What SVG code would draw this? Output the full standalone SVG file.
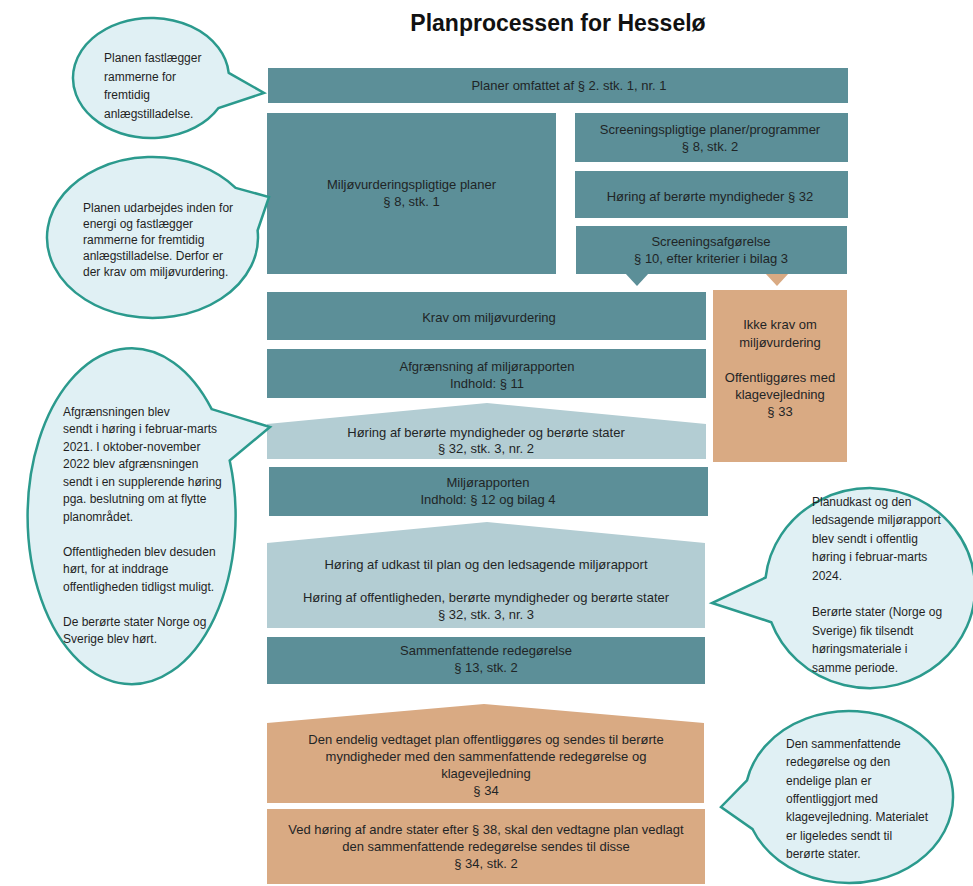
<svg xmlns="http://www.w3.org/2000/svg" width="973" height="886" viewBox="0 0 973 886">
<style>
  .bg { fill: #ffffff; }
  .teal { fill: #5c8f98; }
  .light { fill: #b3cdd3; }
  .orange { fill: #d9aa83; }
  .bubble { fill: #e0f0f4; stroke: #2b9a8d; stroke-width: 2.5; stroke-linejoin: miter; }
  .t { font-family: "Liberation Sans", Arial, sans-serif; font-size: 13px; fill: #1f2526; text-anchor: middle; }
  .b { font-family: "Liberation Sans", Arial, sans-serif; font-size: 12px; fill: #1f1f1f; }
  .title { font-family: "Liberation Sans", Arial, sans-serif; font-size: 23px; font-weight: bold; fill: #111111; text-anchor: middle; }
</style>
<rect class="bg" x="0" y="0" width="973" height="886"/>

<text class="title" x="558" y="31">Planprocessen for Hesselø</text>

<g id="connectors">
  <polygon class="teal" points="625,273 649,273 637,286"/>
  <polygon class="orange" points="765,273 789,273 777,286"/>
</g>

<g id="n-planer">
  <rect class="teal" x="268" y="68" width="580" height="35"/>
  <text class="t" x="569" y="90">Planer omfattet af § 2. stk. 1, nr. 1</text>
</g>

<g id="n-miljovurderingspligtige">
  <rect class="teal" x="267" y="113" width="289" height="161"/>
  <text class="t" x="411.5" y="189">Miljøvurderingspligtige planer</text>
  <text class="t" x="411.5" y="206">§ 8, stk. 1</text>
</g>

<g id="n-screeningspligtige">
  <rect class="teal" x="575" y="113" width="273" height="49"/>
  <text class="t" x="710" y="134">Screeningspligtige planer/programmer</text>
  <text class="t" x="710" y="151">§ 8, stk. 2</text>
</g>

<g id="n-horing-myndigheder">
  <rect class="teal" x="575" y="171" width="273" height="47"/>
  <text class="t" x="710" y="201">Høring af berørte myndigheder § 32</text>
</g>

<g id="n-screeningsafgorelse">
  <rect class="teal" x="576" y="226" width="271" height="48"/>
  <text class="t" x="711" y="246">Screeningsafgørelse</text>
  <text class="t" x="711" y="263">§ 10, efter kriterier i bilag 3</text>
</g>

<g id="n-ikke-krav">
  <rect class="orange" x="713" y="290" width="134" height="172"/>
  <text class="t" x="780" y="329">Ikke krav om</text>
  <text class="t" x="780" y="347">miljøvurdering</text>
  <text class="t" x="780" y="382">Offentliggøres med</text>
  <text class="t" x="780" y="399">klagevejledning</text>
  <text class="t" x="780" y="416">§ 33</text>
</g>

<g id="n-krav">
  <rect class="teal" x="267" y="292" width="439" height="48"/>
  <text class="t" x="489" y="322">Krav om miljøvurdering</text>
</g>

<g id="n-afgraensning">
  <rect class="teal" x="267" y="349" width="439" height="49"/>
  <text class="t" x="487" y="371">Afgrænsning af miljørapporten</text>
  <text class="t" x="487" y="388">Indhold: § 11</text>
</g>

<g id="n-horing-stater">
  <polygon class="light" points="267,424 487,403 706,424 706,459 267,459"/>
  <text class="t" x="486" y="437">Høring af berørte myndigheder og berørte stater</text>
  <text class="t" x="486" y="453">§ 32, stk. 3, nr. 2</text>
</g>

<g id="n-miljorapporten">
  <rect class="teal" x="269" y="467" width="439" height="49"/>
  <text class="t" x="488" y="487">Miljørapporten</text>
  <text class="t" x="488" y="504">Indhold: § 12 og bilag 4</text>
</g>

<g id="n-horing-udkast">
  <polygon class="light" points="267,543 487,522 705,543 705,628 267,628"/>
  <text class="t" x="486" y="569">Høring af udkast til plan og den ledsagende miljørapport</text>
  <text class="t" x="486" y="602">Høring af offentligheden, berørte myndigheder og berørte stater</text>
  <text class="t" x="486" y="619">§ 32, stk. 3, nr. 3</text>
</g>

<g id="n-sammenfattende">
  <rect class="teal" x="267" y="637" width="438" height="47"/>
  <text class="t" x="486" y="655">Sammenfattende redegørelse</text>
  <text class="t" x="486" y="672">§ 13, stk. 2</text>
</g>

<g id="n-endelig">
  <polygon class="orange" points="267,723 484,704 704,723 704,803 267,803"/>
  <text class="t" x="486" y="744">Den endelig vedtaget plan offentliggøres og sendes til berørte</text>
  <text class="t" x="486" y="761">myndigheder med den sammenfattende redegørelse og</text>
  <text class="t" x="486" y="778">klagevejledning</text>
  <text class="t" x="486" y="795">§ 34</text>
</g>

<g id="n-andre-stater">
  <rect class="orange" x="267" y="809" width="438" height="75"/>
  <text class="t" x="486" y="834">Ved høring af andre stater efter § 38, skal den vedtagne plan vedlagt</text>
  <text class="t" x="486" y="851">den sammenfattende redegørelse sendes til disse</text>
  <text class="t" x="486" y="868">§ 34, stk. 2</text>
</g>

<g id="c-bubble1">
  <path class="bubble" d="M228.7,72.8 L264,93 L218.5,108 A78,60 0 1 1 228.7,72.8 Z"/>
  <text class="b" x="104" y="62">Planen fastlægger</text>
  <text class="b" x="104" y="80.5">rammerne for</text>
  <text class="b" x="104" y="99">fremtidig</text>
  <text class="b" x="104" y="117.5">anlægstilladelse.</text>
</g>

<g id="c-bubble2">
  <path class="bubble" d="M235.6,187.9 L269,197 L257.6,230.5 A105.5,80.5 0 1 1 235.6,187.9 Z"/>
  <text class="b" x="83" y="212">Planen udarbejdes inden for</text>
  <text class="b" x="83" y="228">energi og fastlægger</text>
  <text class="b" x="83" y="244">rammerne for fremtidig</text>
  <text class="b" x="83" y="260">anlægstilladelse. Derfor er</text>
  <text class="b" x="83" y="276">der krav om miljøvurdering.</text>
</g>

<g id="c-bubble3">
  <path class="bubble" d="M211.7,409.1 L270,427 L229.7,460.5 A104,168 0 1 1 211.7,409.1 Z"/>
  <text class="b" x="63" y="415.5">Afgrænsningen blev</text>
  <text class="b" x="63" y="433">sendt i høring i februar-marts</text>
  <text class="b" x="63" y="450.5">2021. I oktober-november</text>
  <text class="b" x="63" y="468">2022 blev afgrænsningen</text>
  <text class="b" x="63" y="485.5">sendt i en supplerende høring</text>
  <text class="b" x="63" y="503">pga. beslutning om at flytte</text>
  <text class="b" x="63" y="520.5">planområdet.</text>
  <text class="b" x="63" y="555.5">Offentligheden blev desuden</text>
  <text class="b" x="63" y="573">hørt, for at inddrage</text>
  <text class="b" x="63" y="590.5">offentligheden tidligst muligt.</text>
  <text class="b" x="63" y="625.5">De berørte stater Norge og</text>
  <text class="b" x="63" y="643">Sverige blev hørt.</text>
</g>

<g id="c-bubble4">
  <path class="bubble" d="M765.6,577.5 L712,603 L771.3,622.2 A105,100 0 1 0 765.6,577.5 Z"/>
  <text class="b" x="812" y="506">Planudkast og den</text>
  <text class="b" x="812" y="524.4">ledsagende miljørapport</text>
  <text class="b" x="812" y="542.8">blev sendt i offentlig</text>
  <text class="b" x="812" y="561.2">høring i februar-marts</text>
  <text class="b" x="812" y="579.6">2024.</text>
  <text class="b" x="812" y="616.4">Berørte stater (Norge og</text>
  <text class="b" x="812" y="634.8">Sverige) fik tilsendt</text>
  <text class="b" x="812" y="653.2">høringsmateriale i</text>
  <text class="b" x="812" y="671.6">samme periode.</text>
</g>

<g id="c-bubble5">
  <path class="bubble" d="M747,780.4 L721,807 L752.6,829.2 A104,86 0 1 0 747,780.4 Z"/>
  <text class="b" x="786" y="748">Den sammenfattende</text>
  <text class="b" x="786" y="766.3">redegørelse og den</text>
  <text class="b" x="786" y="784.6">endelige plan er</text>
  <text class="b" x="786" y="803">offentliggjort med</text>
  <text class="b" x="786" y="821.3">klagevejledning. Materialet</text>
  <text class="b" x="786" y="839.6">er ligeledes sendt til</text>
  <text class="b" x="786" y="858">berørte stater.</text>
</g>
</svg>
